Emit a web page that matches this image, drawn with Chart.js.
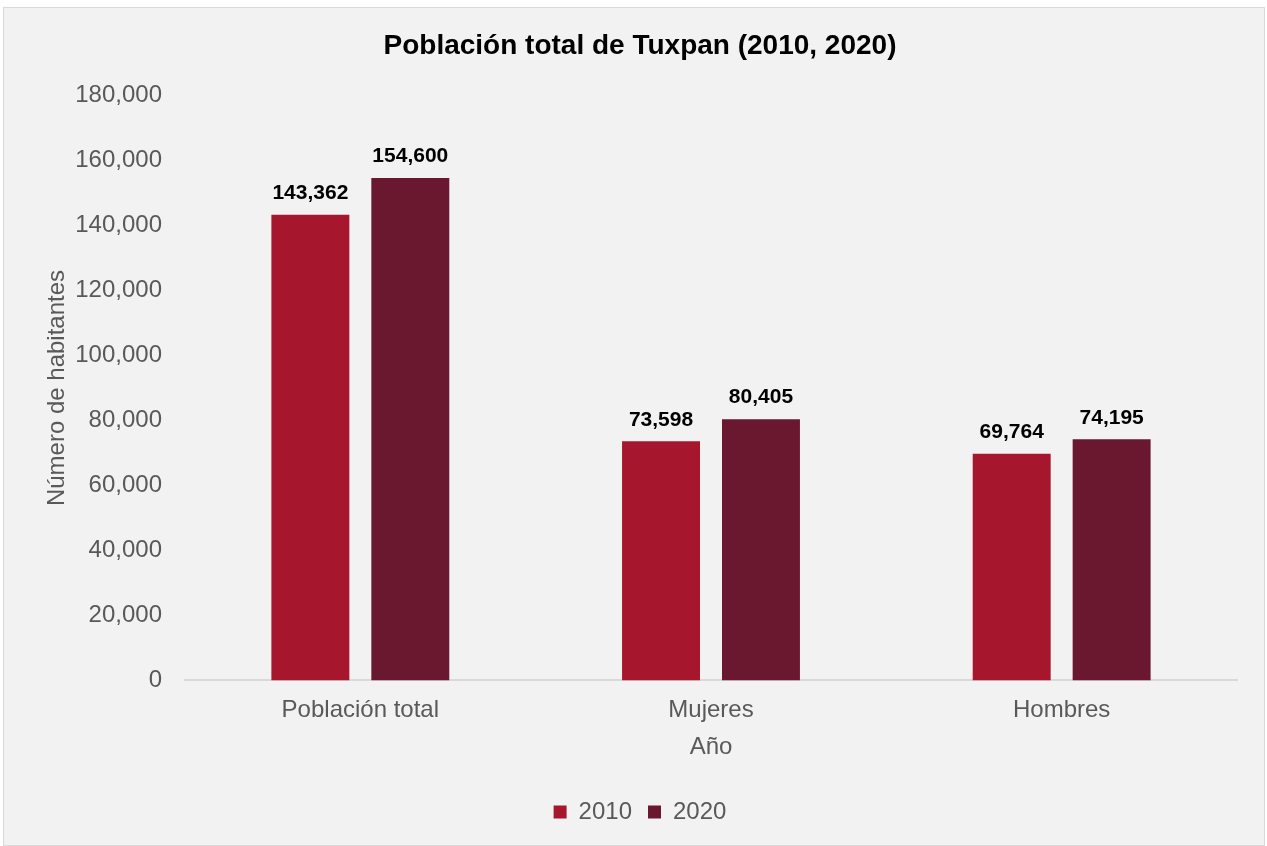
<!DOCTYPE html>
<html>
<head>
<meta charset="utf-8">
<script src="https://cdn.jsdelivr.net/npm/chart.js@4/dist/chart.umd.min.js"></script>
<style>
  body { margin: 0; background: #ffffff; }
  #marco {
    position: absolute; left: 3px; top: 7px;
    width: 1260px; height: 837px;
    background: #f2f2f2; border: 1px solid #d9d9d9;
  }
</style>
</head>
<body>
<div id="marco"><canvas id="grafica"></canvas></div>
<script>
// Datos
const categorias = ['Población total', 'Mujeres', 'Hombres'];
const anios = ['2010', '2020'];
const valores2010 = [143362, 73598, 69764];
const valores2020 = [154600, 80405, 74195];
const ticksY = [0, 20000, 40000, 60000, 80000, 100000, 120000, 140000, 160000, 180000];

const FUENTE = "'Liberation Sans', Arial, sans-serif";
const GRIS = '#595959';

// Etiquetas de valor encima de cada barra
const etiquetasBarras = {
    id: 'etiquetasBarras',
    afterDatasetsDraw(chart) {
        const ctx = chart.ctx;
        ctx.save();
        ctx.font = 'bold 21px ' + FUENTE;
        ctx.fillStyle = '#000000';
        ctx.textAlign = 'center';
        ctx.textBaseline = 'bottom';
        chart.data.datasets.forEach((ds, i) => {
            chart.getDatasetMeta(i).data.forEach((barra, j) => {
                ctx.fillText(ds.data[j].toLocaleString('en-US'), barra.x, barra.y - 11);
            });
        });
        ctx.restore();
    }
};

new Chart(document.getElementById('grafica'), {
    type: 'bar',
    data: {
        labels: categorias,
        datasets: [
            { label: anios[0], data: valores2010, backgroundColor: '#a6172d' },
            { label: anios[1], data: valores2020, backgroundColor: '#6a1830' }
        ]
    },
    options: {
        responsive: true,
        maintainAspectRatio: false,
        animation: false,
        categoryPercentage: 0.57,
        barPercentage: 0.78,
        layout: { padding: { top: 21, right: 27, bottom: 11, left: 39 } },
        plugins: {
            title: {
                display: true,
                text: 'Población total de Tuxpan (2010, 2020)',
                color: '#000000',
                font: { family: FUENTE, size: 28, weight: 'bold' },
                padding: { top: 0, bottom: 33 }
            },
            legend: {
                position: 'bottom',
                labels: {
                    color: GRIS,
                    boxWidth: 13,
                    boxHeight: 13,
                    padding: 16,
                    font: { family: FUENTE, size: 24 }
                }
            },
            tooltip: { enabled: false }
        },
        scales: {
            y: {
                min: 0,
                max: 180000,
                afterBuildTicks: (eje) => { eje.ticks = ticksY.map(v => ({ value: v })); },
                afterFit: (eje) => { eje.width = 142; },
                grid: { display: false },
                border: { display: false },
                ticks: {
                    color: GRIS,
                    padding: 15,
                    font: { family: FUENTE, size: 24 },
                    callback: (v) => Number(v).toLocaleString('en-US')
                },
                title: {
                    display: true,
                    text: 'Número de habitantes',
                    color: GRIS,
                    font: { family: FUENTE, size: 24 },
                    padding: { top: 0, bottom: 0 }
                }
            },
            x: {
                grid: { display: false },
                border: { color: '#d9d9d9', width: 2 },
                ticks: {
                    color: GRIS,
                    padding: 8,
                    font: { family: FUENTE, size: 24 }
                },
                title: {
                    display: true,
                    text: 'Año',
                    color: GRIS,
                    font: { family: FUENTE, size: 24 },
                    padding: { top: 0, bottom: 22 }
                }
            }
        }
    },
    plugins: [etiquetasBarras]
});
</script>
</body>
</html>
